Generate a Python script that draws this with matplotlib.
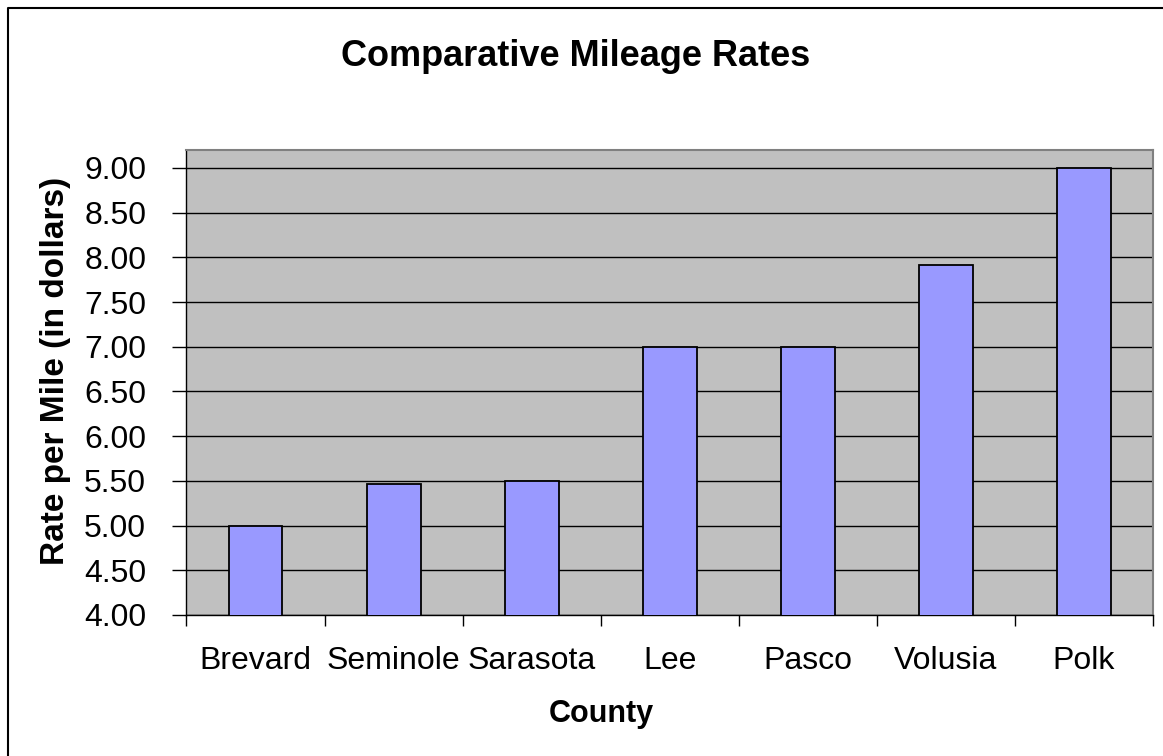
import matplotlib
matplotlib.use("Agg")
import matplotlib.pyplot as plt
from matplotlib.lines import Line2D
import numpy as np

counties = ["Brevard", "Seminole", "Sarasota", "Lee", "Pasco", "Volusia", "Polk"]
rates = [5.00, 5.47, 5.50, 7.00, 7.00, 7.91, 9.00]
y_ticks = [4.00, 4.50, 5.00, 5.50, 6.00, 6.50, 7.00, 7.50, 8.00, 8.50, 9.00]

plt.rcParams["font.family"] = ["Liberation Sans", "DejaVu Sans"]

W, H = 1163, 756
fig = plt.figure(figsize=(W / 100, H / 100), dpi=100)
fig.patch.set_facecolor("white")

# chart frame (top and left edges)
fig.lines.append(Line2D([7.5 / W, 7.5 / W, 1.0], [0.0, 1 - 7.5 / H, 1 - 7.5 / H],
                        transform=fig.transFigure, color="black", linewidth=1.5))

left, right, top, bottom = 186.5, 1153, 150, 615
ax = fig.add_axes([left / W, 1 - bottom / H, (right - left) / W, (bottom - top) / H])
ax.set_facecolor("#C0C0C0")

x = np.arange(len(counties))
ax.bar(x, rates, width=0.39, bottom=0, color="#9999FF",
       edgecolor="black", linewidth=1.3, zorder=3)

ax.set_xlim(-0.5, len(counties) - 0.5)
ax.set_ylim(4.0, 9.2)
ax.set_yticks(y_ticks)
ax.set_yticklabels([f"{v:.2f}" for v in y_ticks], fontsize=23)
ax.yaxis.grid(True, color="black", linewidth=1.0, zorder=1)
ax.set_axisbelow(True)

# category labels centred, tick marks between categories
ax.set_xticks(np.arange(-0.5, len(counties), 1.0))
ax.set_xticklabels([])
ax.set_xticks(x, minor=True)
ax.set_xticklabels(counties, minor=True, fontsize=23)
ax.tick_params(axis="x", which="minor", length=0, pad=22)
ax.tick_params(axis="x", which="major", length=8, width=1, direction="out")
ax.tick_params(axis="y", length=10, width=1, direction="out", pad=19)

for s in ("top", "right"):
    ax.spines[s].set_color("#808080")
    ax.spines[s].set_linewidth(1.5)
for s in ("left", "bottom"):
    ax.spines[s].set_color("black")
    ax.spines[s].set_linewidth(1.0)

fig.text(601 / W, 1 - 714 / H, "County", ha="center", va="center",
         fontsize=22, fontweight="bold")
fig.text(56 / W, 1 - 371 / H, "Rate per Mile (in dollars)", ha="center", va="center",
         rotation=90, fontsize=24, fontweight="bold")
fig.text(576 / W, 1 - 57 / H, "Comparative Mileage Rates",
         ha="center", va="center", fontsize=26, fontweight="bold")

fig.savefig("out.png", dpi=100)
